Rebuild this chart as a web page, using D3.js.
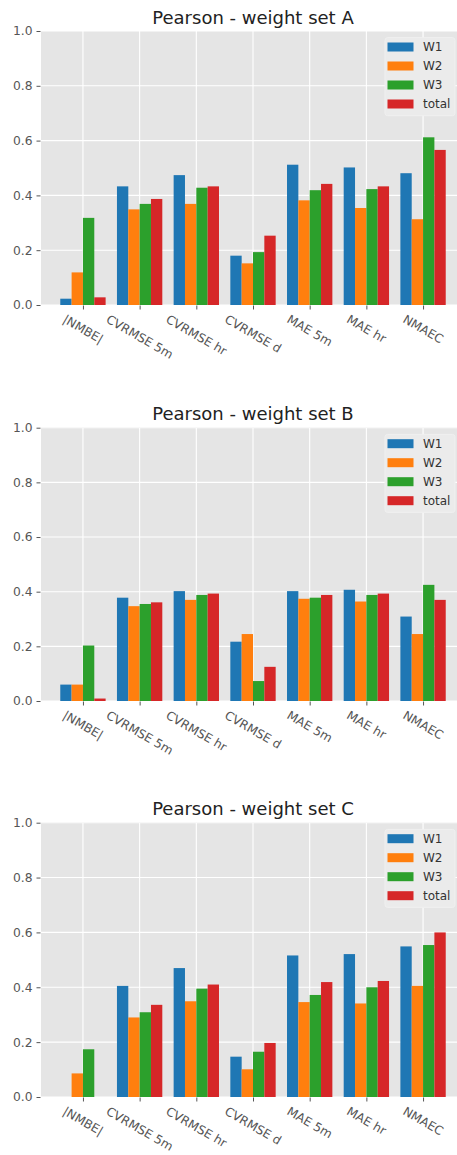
<!DOCTYPE html>
<html>
<head>
<meta charset="utf-8">
<script src="https://cdn.jsdelivr.net/npm/d3@7"></script>
<style>
  html, body { margin: 0; padding: 0; background: #ffffff; }
  svg { display: block; }
  text { font-family: "DejaVu Sans", sans-serif; }
</style>
</head>
<body>
<script>
const categories = ["|NMBE|", "CVRMSE 5m", "CVRMSE hr", "CVRMSE d", "MAE 5m", "MAE hr", "NMAEC"];
const seriesNames = ["W1", "W2", "W3", "total"];
const seriesColors = ["#1f77b4", "#ff7f0e", "#2ca02c", "#d62728"];
const yTicks = [0.0, 0.2, 0.4, 0.6, 0.8, 1.0];

const titleA = "Pearson - weight set A";
const A_W1 = [0.023, 0.433, 0.474, 0.180, 0.512, 0.502, 0.481];
const A_W2 = [0.119, 0.349, 0.369, 0.152, 0.382, 0.354, 0.313];
const A_W3 = [0.318, 0.369, 0.428, 0.193, 0.419, 0.423, 0.612];
const A_total = [0.028, 0.387, 0.433, 0.253, 0.442, 0.433, 0.566];

const titleB = "Pearson - weight set B";
const B_W1 = [0.060, 0.378, 0.402, 0.217, 0.402, 0.407, 0.309];
const B_W2 = [0.060, 0.347, 0.370, 0.245, 0.374, 0.364, 0.245];
const B_W3 = [0.203, 0.355, 0.388, 0.073, 0.378, 0.388, 0.425];
const B_total = [0.009, 0.361, 0.393, 0.125, 0.388, 0.393, 0.370];

const titleC = "Pearson - weight set C";
const C_W1 = [0.000, 0.405, 0.470, 0.147, 0.516, 0.521, 0.549];
const C_W2 = [0.086, 0.290, 0.349, 0.101, 0.346, 0.341, 0.405];
const C_W3 = [0.174, 0.309, 0.395, 0.165, 0.372, 0.400, 0.554];
const C_total = [0.000, 0.336, 0.410, 0.197, 0.419, 0.423, 0.600];

const panels = [
  { title: titleA, series: [A_W1, A_W2, A_W3, A_total], top: 31, bottom: 305 },
  { title: titleB, series: [B_W1, B_W2, B_W3, B_total], top: 427.7, bottom: 701 },
  { title: titleC, series: [C_W1, C_W2, C_W3, C_total], top: 822.7, bottom: 1097 }
];

const W = 457, H = 1155;
const svg = d3.select("body").append("svg").attr("width", W).attr("height", H);

const plotLeft = 41, plotRight = 465;
const barW = 0.2;
const offsets = [-0.3, -0.1, 0.1, 0.3];

panels.forEach((p, pi) => {
  const x = d3.scaleLinear().domain([-0.74, 6.74]).range([plotLeft, plotRight]);
  const y = d3.scaleLinear().domain([0, 1]).range([p.bottom, p.top]);
  const g = svg.append("g");
  const clipId = "clip" + pi;
  g.append("clipPath").attr("id", clipId).append("rect")
    .attr("x", plotLeft).attr("y", p.top).attr("width", plotRight - plotLeft).attr("height", p.bottom - p.top);

  // background
  g.append("rect").attr("x", plotLeft).attr("y", p.top)
    .attr("width", plotRight - plotLeft).attr("height", p.bottom - p.top)
    .attr("fill", "#e5e5e5");

  // grid
  const grid = g.append("g").attr("clip-path", `url(#${clipId})`);
  grid.selectAll("line.hy").data(yTicks).join("line")
    .attr("x1", plotLeft).attr("x2", plotRight)
    .attr("y1", d => y(d)).attr("y2", d => y(d))
    .attr("stroke", "#ffffff").attr("stroke-width", 1.1);
  grid.selectAll("line.vx").data(categories.map((c, i) => i)).join("line")
    .attr("y1", p.top).attr("y2", p.bottom)
    .attr("x1", d => x(d)).attr("x2", d => x(d))
    .attr("stroke", "#ffffff").attr("stroke-width", 1.1);

  // bars
  const bars = g.append("g").attr("clip-path", `url(#${clipId})`);
  p.series.forEach((vals, si) => {
    bars.selectAll(null).data(vals).join("rect")
      .attr("x", (d, i) => x(i + offsets[si] - barW / 2))
      .attr("width", (d, i) => x(i + offsets[si] + barW / 2) - x(i + offsets[si] - barW / 2))
      .attr("y", d => y(d))
      .attr("height", d => y(0) - y(d))
      .attr("fill", seriesColors[si]);
  });

  // y axis ticks & labels
  const yAxis = d3.axisLeft(y).tickValues(yTicks).tickFormat(d3.format(".1f")).tickSize(4).tickPadding(4);
  const ya = g.append("g").attr("transform", `translate(${plotLeft - 0.5},0)`).call(yAxis);
  ya.select(".domain").remove();
  ya.selectAll(".tick line").attr("stroke", "#555555");
  ya.selectAll(".tick text").attr("fill", "#555555").attr("font-size", 12.3)
    .attr("font-family", "DejaVu Sans, sans-serif");

  // x axis ticks
  const xAxis = d3.axisBottom(x).tickValues(categories.map((c, i) => i)).tickFormat("").tickSize(4);
  const xa = g.append("g").attr("transform", `translate(0,${p.bottom + 0.5})`).call(xAxis);
  xa.select(".domain").remove();
  xa.selectAll(".tick line").attr("stroke", "#555555");

  // x labels rotated
  const labTop = p.bottom + 7.5;
  const fs = 12.2;
  const rad = 30 * Math.PI / 180;
  categories.forEach((c, i) => {
    const t = g.append("text")
      .attr("font-size", fs).attr("fill", "#555555")
      .attr("text-anchor", "middle").attr("dominant-baseline", "central")
      .text(c);
    const L = t.node().getComputedTextLength();
    const h = fs * 1.1;
    const bh = L * Math.sin(rad) + h * Math.cos(rad);
    t.attr("transform", `translate(${x(i)},${labTop + bh / 2}) rotate(30)`);
  });

  // title
  g.append("text")
    .attr("x", (plotLeft + plotRight) / 2).attr("y", p.top - 7.5)
    .attr("text-anchor", "middle").attr("font-size", 18).attr("fill", "#222222")
    .text(p.title);

  // legend
  const lx = 385, ly = p.top + 6.7;
  const lg = g.append("g");
  lg.append("rect").attr("x", lx).attr("y", ly).attr("width", 70).attr("height", 78)
    .attr("rx", 2.5).attr("fill", "#ebebeb").attr("stroke", "#f0f0f0").attr("stroke-width", 1);
  seriesNames.forEach((s, si) => {
    const cy = ly + 9.3 + si * 19;
    lg.append("rect").attr("x", lx + 2.5).attr("y", cy - 4.5).attr("width", 26).attr("height", 9)
      .attr("fill", seriesColors[si]);
    lg.append("text").attr("x", lx + 38).attr("y", cy).attr("dominant-baseline", "central")
      .attr("font-size", 12).attr("fill", "#333333").text(s);
  });
});
</script>
</body>
</html>
